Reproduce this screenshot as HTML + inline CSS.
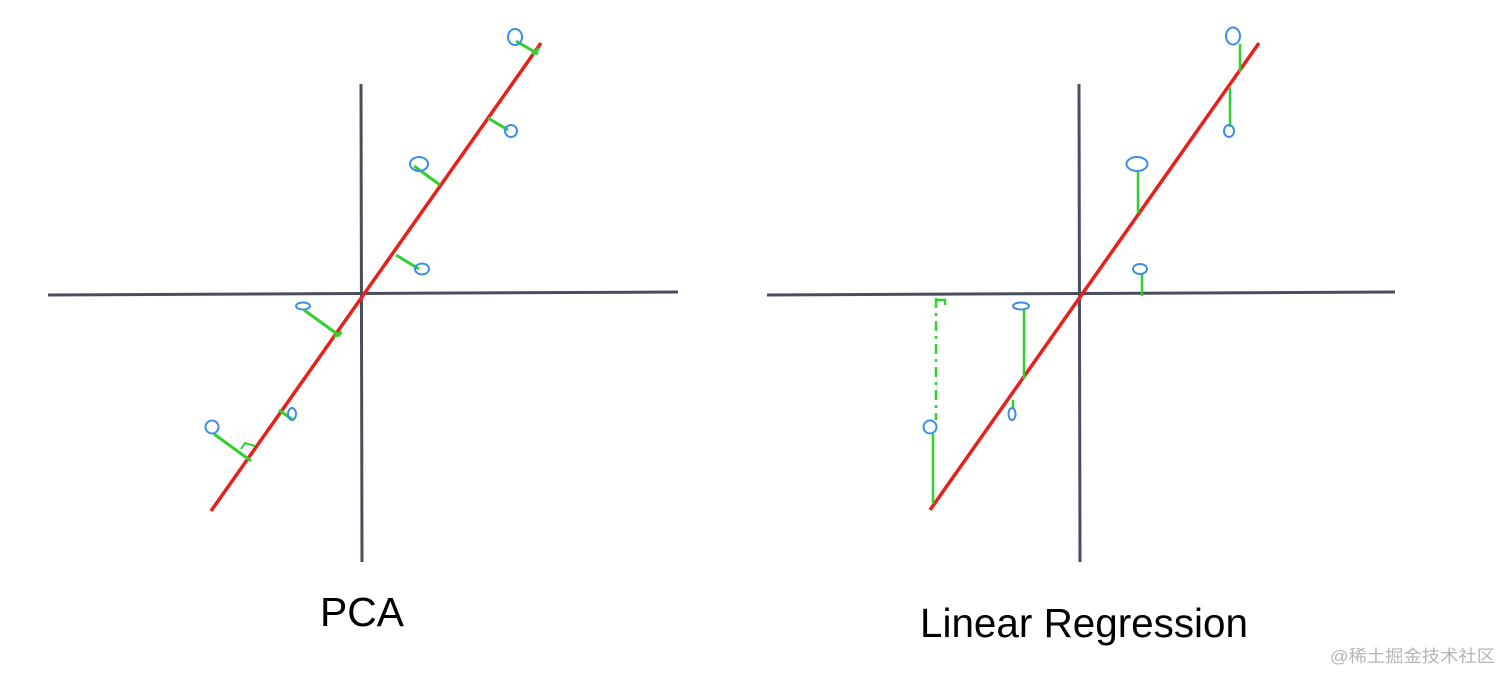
<!DOCTYPE html>
<html><head><meta charset="utf-8"><style>
html,body{margin:0;padding:0;background:#fff;width:1512px;height:686px;overflow:hidden}
</style></head><body>
<svg width="1512" height="686" viewBox="0 0 1512 686" xmlns="http://www.w3.org/2000/svg">
<g stroke="#4a4d5e" stroke-width="3" fill="none">
<line x1="48" y1="295" x2="678" y2="292"/>
<line x1="361" y1="84" x2="362" y2="562"/>
<line x1="767" y1="295" x2="1395" y2="292"/>
<line x1="1079" y1="84" x2="1080" y2="562"/>
</g>
<g stroke="#e8201c" stroke-width="3.5">
<line x1="211" y1="511" x2="541" y2="43"/>
<line x1="930" y1="510" x2="1259" y2="43"/>
</g>
<g stroke="#2ed12e" stroke-width="3" fill="none">
<line x1="516" y1="41" x2="538" y2="54"/><line x1="533" y1="55" x2="539" y2="48"/>
<line x1="488" y1="118" x2="508" y2="130"/>
<line x1="414" y1="166" x2="440" y2="185"/>
<line x1="396" y1="255" x2="419" y2="269"/>
<line x1="304" y1="310" x2="340" y2="336"/><line x1="334" y1="337" x2="342" y2="332"/>
<line x1="279" y1="410" x2="293" y2="420"/>
<line x1="214" y1="434" x2="251" y2="461"/>
<polyline points="241,449 245,443 255,446" stroke-width="2"/>
</g>
<g stroke="#2ed12e" stroke-width="2.5" fill="none">
<line x1="1240" y1="44" x2="1240" y2="72"/>
<line x1="1230" y1="87" x2="1230" y2="127"/>
<line x1="1138" y1="172" x2="1138" y2="213"/>
<line x1="1142" y1="274" x2="1142" y2="296"/>
<line x1="1024" y1="310" x2="1024" y2="379"/>
<line x1="1013" y1="400" x2="1013" y2="409"/>
<line x1="933" y1="434" x2="933" y2="504"/>
<line x1="936" y1="298" x2="936" y2="420" stroke-dasharray="10,5,3,5"/>
<polyline points="936,300 945,300 945,305"/>
</g>
<g stroke="#3d8ee6" stroke-width="2" fill="none">
<ellipse cx="515" cy="37" rx="7" ry="8"/>
<ellipse cx="511" cy="131" rx="6" ry="6"/>
<ellipse cx="419" cy="164" rx="9" ry="7"/>
<ellipse cx="422" cy="269" rx="7" ry="5.5"/>
<ellipse cx="303" cy="306" rx="7" ry="3.5"/>
<ellipse cx="292" cy="414" rx="4" ry="6"/>
<ellipse cx="212" cy="427" rx="6.5" ry="6.5"/>
<ellipse cx="1233" cy="36" rx="7" ry="8.5"/>
<ellipse cx="1229" cy="131" rx="5" ry="6"/>
<ellipse cx="1137" cy="164" rx="10.5" ry="7"/>
<ellipse cx="1140" cy="269" rx="7" ry="5"/>
<ellipse cx="1021" cy="306" rx="8" ry="3.5"/>
<ellipse cx="1012" cy="414" rx="3.5" ry="6"/>
<ellipse cx="930" cy="427" rx="6.5" ry="6.5"/>
</g>
<text x="320" y="626" font-family="Liberation Sans, sans-serif" font-size="41" fill="#000" textLength="84" lengthAdjust="spacingAndGlyphs">PCA</text>
<text x="920" y="637" font-family="Liberation Sans, sans-serif" font-size="41" fill="#000" textLength="328" lengthAdjust="spacingAndGlyphs">Linear Regression</text>
<text x="1330" y="662" font-family="Liberation Sans, 'Noto Sans CJK SC', sans-serif" font-size="17" fill="#b5b5b5" textLength="165" lengthAdjust="spacingAndGlyphs">@稀土掘金技术社区</text>
</svg>
</body></html>
